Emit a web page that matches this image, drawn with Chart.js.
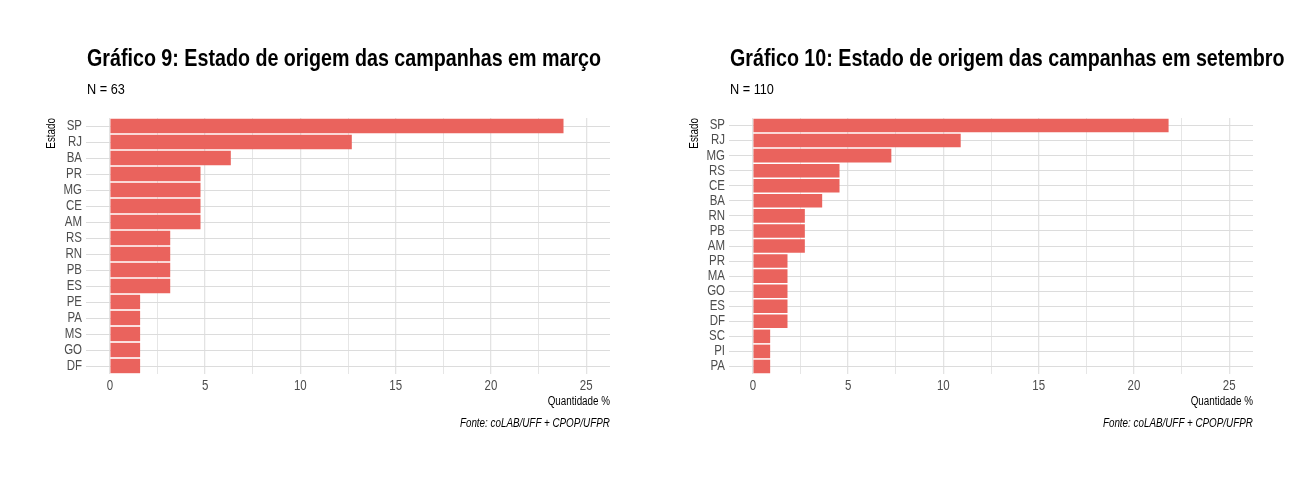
<!DOCTYPE html>
<html><head><meta charset="utf-8">
<script src="https://cdn.jsdelivr.net/npm/chart.js@4/dist/chart.umd.min.js"></script>
<style>
body{margin:0;background:#fff;width:1300px;height:480px;overflow:hidden;position:relative;font-family:'Liberation Sans',Arial,sans-serif;}
.panel{position:absolute;top:0;width:650px;height:480px;}
canvas{position:absolute;left:0;top:0;}
.title{position:absolute;left:87px;top:46px;font-weight:bold;font-size:24px;line-height:24px;color:#000;white-space:nowrap;transform:scaleX(0.82);transform-origin:0 0;}
.sub{position:absolute;left:87px;top:81px;font-size:15.5px;line-height:16px;color:#000;white-space:nowrap;transform:scaleX(0.82);transform-origin:0 0;}
.cap{position:absolute;right:40px;top:417px;font-size:12px;line-height:12px;font-style:italic;color:#000;white-space:nowrap;transform:scaleX(0.82);transform-origin:100% 0;}
</style></head><body>
<div class="panel" style="left:0px">
  <canvas id="c1" width="650" height="480"></canvas>
  <div class="title">Gráfico 9: Estado de origem das campanhas em março</div>
  <div class="sub">N = 63</div>
  <div class="cap">Fonte: coLAB/UFF + CPOP/UFPR</div>
</div>
<div class="panel" style="left:643px">
  <canvas id="c2" width="650" height="480"></canvas>
  <div class="title">Gráfico 10: Estado de origem das campanhas em setembro</div>
  <div class="sub">N = 110</div>
  <div class="cap">Fonte: coLAB/UFF + CPOP/UFPR</div>
</div>
<script>
const statesMarch = ['SP','RJ','BA','PR','MG','CE','AM','RS','RN','PB','ES','PE','PA','MS','GO','DF'];
const valuesMarch = [23.81,12.70,6.35,4.76,4.76,4.76,4.76,3.17,3.17,3.17,3.17,1.59,1.59,1.59,1.59,1.59];
const statesSept = ['SP','RJ','MG','RS','CE','BA','RN','PB','AM','PR','MA','GO','ES','DF','SC','PI','PA'];
const valuesSept = [21.82,10.91,7.27,4.55,4.55,3.64,2.73,2.73,2.73,1.82,1.82,1.82,1.82,1.82,0.91,0.91,0.91];
const xTickValues = [0,2.5,5,7.5,10,12.5,15,17.5,20,22.5,25];
const xTickLabels = ['0','5','10','15','20','25'];

const FONT = "'Liberation Sans',Arial,sans-serif";

// Narrow (condensed) text rendering on canvas, imitating Arial Narrow
const origFill = CanvasRenderingContext2D.prototype.fillText;
CanvasRenderingContext2D.prototype.fillText = function(t, x, y, mw){
  const w = this.measureText(t).width * 0.82;
  return origFill.call(this, t, x, y, (mw !== undefined && mw !== null) ? Math.min(mw, w) : w);
};

function makeChart(id, labels, values){
  new Chart(document.getElementById(id), {
    type:'bar',
    data:{labels:labels, datasets:[{data:values, backgroundColor:'rgb(234,99,93)', borderWidth:0, barPercentage:0.9, categoryPercentage:1.0}]},
    options:{
      indexAxis:'y', responsive:false, animation:false,
      layout:{padding:{left:0,right:40,top:118,bottom:0}},
      plugins:{legend:{display:false}, tooltip:{enabled:false}},
      scales:{
        x:{
          type:'linear', min:-1.25, max:26.25,
          afterBuildTicks:(s)=>{ s.ticks = xTickValues.map(v=>({value:v})); },
          afterFit:(s)=>{ s.height = 106; },
          border:{display:false},
          grid:{drawTicks:false,
            color:(c)=> (c.tick && c.tick.value%5===0) ? '#e3e3e3' : '#e0e0e0',
            lineWidth:(c)=> (c.tick && c.tick.value%5===0) ? 1.3 : 0.8},
          ticks:{padding:4, color:'#4d4d4d', font:{family:FONT,size:14},
            callback:(v)=>{ const i = xTickLabels.indexOf(String(v)); return i>=0 ? xTickLabels[i] : ''; },
            autoSkip:false, maxRotation:0},
          title:{display:true, text:'Quantidade %', align:'end', color:'#000', font:{family:FONT,size:12}, padding:{top:0,bottom:71}}
        },
        y:{
          type:'category',
          afterFit:(s)=>{ s.width = 86; },
          border:{display:false},
          grid:{drawTicks:false, offset:false, color:'#dcdcdc', lineWidth:1},
          ticks:{padding:4, color:'#4d4d4d', font:{family:FONT,size:14}, autoSkip:false},
          title:{display:true, text:'Estado', align:'end', color:'#000', font:{family:FONT,size:12}, padding:{top:44,bottom:0}}
        }
      }
    }
  });
}
makeChart('c1', statesMarch, valuesMarch);
makeChart('c2', statesSept, valuesSept);
</script>
</body></html>
